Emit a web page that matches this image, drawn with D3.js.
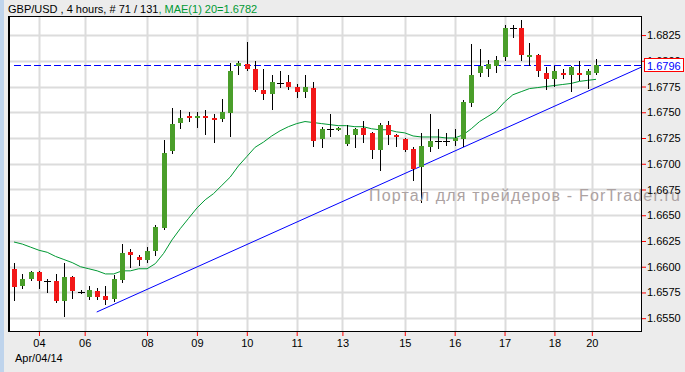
<!DOCTYPE html>
<html>
<head>
<meta charset="utf-8">
<script src="https://cdn.jsdelivr.net/npm/d3@7"></script>
<style>
  html, body { margin: 0; padding: 0; background: #ececec; }
  svg { display: block; }
  text { font-family: Arial, "Liberation Sans", sans-serif; }
</style>
</head>
<body>
<svg id="chart" width="685" height="372"></svg>
<script>
'use strict';

var symbol = 'GBP/USD';
var period = '4 hours';
var totalBars = 131;
var maLabel = 'MAE(1) 20';
var watermark = 'Портал для трейдеров - ForTrader.ru';
var firstDate = 'Apr/04/14';

var opens = [1.6598, 1.6581, 1.6588, 1.6595, 1.6586, 1.6586, 1.6567, 1.6590, 1.6575, 1.6571,
  1.6576, 1.6572, 1.6569, 1.6587, 1.6614, 1.6609, 1.6607, 1.6615, 1.6638, 1.6712,
  1.6740, 1.6746, 1.6745, 1.6746, 1.6744, 1.6743, 1.6749, 1.6795, 1.6797, 1.6792,
  1.6772, 1.6768, 1.6778, 1.6779, 1.6775, 1.6770, 1.6774, 1.6724, 1.6734, 1.6734,
  1.6719, 1.6728, 1.6735, 1.6730, 1.6713, 1.6738, 1.6728, 1.6724, 1.6714, 1.6697,
  1.6716, 1.6722, 1.6722, 1.6722, 1.6724, 1.6759, 1.6788, 1.6792, 1.6795, 1.6804,
  1.6832, 1.6832, 1.6804, 1.6806, 1.6788, 1.6782, 1.6788, 1.6786, 1.6788, 1.6786,
  1.6788];

var highs = [1.6604, 1.6593, 1.6596, 1.6596, 1.6588, 1.6593, 1.6604, 1.6591, 1.6577, 1.6581,
  1.6579, 1.6581, 1.6592, 1.6622, 1.6617, 1.6611, 1.6619, 1.6641, 1.6723, 1.6754,
  1.6752, 1.6750, 1.6750, 1.6752, 1.6748, 1.6763, 1.6798, 1.6800, 1.6818, 1.6800,
  1.6792, 1.6786, 1.6790, 1.6786, 1.6777, 1.6786, 1.6779, 1.6736, 1.6748, 1.6736,
  1.6738, 1.6735, 1.6742, 1.6731, 1.6740, 1.6742, 1.6729, 1.6725, 1.6716, 1.6730,
  1.6748, 1.6734, 1.6730, 1.6734, 1.6762, 1.6816, 1.6811, 1.6801, 1.6805, 1.6835,
  1.6835, 1.6840, 1.6817, 1.6807, 1.6794, 1.6795, 1.6792, 1.6795, 1.6800, 1.6792,
  1.6802];

var lows = [1.6568, 1.6579, 1.6587, 1.6579, 1.6575, 1.6566, 1.6552, 1.6570, 1.6574, 1.6569,
  1.6569, 1.6564, 1.6567, 1.6585, 1.6600, 1.6602, 1.6605, 1.6611, 1.6637, 1.6710,
  1.6735, 1.6742, 1.6736, 1.6729, 1.6721, 1.6742, 1.6727, 1.6787, 1.6791, 1.6771,
  1.6763, 1.6753, 1.6775, 1.6773, 1.6765, 1.6765, 1.6717, 1.6716, 1.6727, 1.6733,
  1.6718, 1.6716, 1.6721, 1.6706, 1.6694, 1.6719, 1.6717, 1.6712, 1.6684, 1.6663,
  1.6712, 1.6715, 1.6718, 1.6718, 1.6717, 1.6756, 1.6785, 1.6785, 1.6789, 1.6801,
  1.6823, 1.6801, 1.6796, 1.6785, 1.6773, 1.6776, 1.6783, 1.6771, 1.6781, 1.6774,
  1.6787];

var closes = [1.6580, 1.6588, 1.6595, 1.6586, 1.6586, 1.6567, 1.6590, 1.6576, 1.6575, 1.6577,
  1.6571, 1.6568, 1.6588, 1.6613, 1.6611, 1.6607, 1.6615, 1.6639, 1.6710, 1.6739,
  1.6744, 1.6745, 1.6746, 1.6745, 1.6743, 1.6750, 1.6790, 1.6798, 1.6792, 1.6772,
  1.6768, 1.6779, 1.6778, 1.6775, 1.6770, 1.6775, 1.6722, 1.6734, 1.6734, 1.6735,
  1.6728, 1.6734, 1.6728, 1.6713, 1.6738, 1.6728, 1.6726, 1.6713, 1.6695, 1.6717,
  1.6722, 1.6722, 1.6722, 1.6725, 1.6760, 1.6786, 1.6795, 1.6797, 1.6801, 1.6832,
  1.6832, 1.6806, 1.6806, 1.6790, 1.6782, 1.6790, 1.6786, 1.6794, 1.6786, 1.6790,
  1.6796];

var maValues = [1.6624, 1.6622, 1.6619, 1.6616, 1.6614, 1.6610, 1.6607, 1.6604, 1.6600, 1.6598,
  1.6596, 1.6593, 1.6593, 1.6596, 1.6596, 1.6598, 1.6598, 1.6603, 1.6613, 1.6626,
  1.6637, 1.6647, 1.6657, 1.6665, 1.6671, 1.6679, 1.6687, 1.6698, 1.6707, 1.6716,
  1.6721, 1.6727, 1.6732, 1.6736, 1.6739, 1.6741, 1.6740, 1.6739, 1.6738, 1.6737,
  1.6737, 1.6736, 1.6736, 1.6734, 1.6733, 1.6733, 1.6731, 1.6730, 1.6727, 1.6726,
  1.6726, 1.6726, 1.6725, 1.6725, 1.6728, 1.6734, 1.6741, 1.6746, 1.6751, 1.6760,
  1.6767, 1.6770, 1.6773, 1.6774, 1.6775, 1.6776, 1.6777, 1.6778, 1.6780, 1.6781,
  1.6782];

// trend line drawn by hand on the chart: [bar index, price]
var trendStart = [9.95, 1.6556];
var trendEnd = [75.5, 1.6794];

var yTicks = [1.6550, 1.6575, 1.6600, 1.6625, 1.6650, 1.6675, 1.6700, 1.6725, 1.6750, 1.6775, 1.6800, 1.6825];
var xTickLabels = ['04', '06', '08', '09', '10', '11', '13', '15', '16', '17', '18', '20'];
var xTickBars = [3, 8.5, 16, 22, 28, 34, 39.5, 47, 53, 59, 65, 69.5];

var plotLeft = 8, plotTop = 16, plotRight = 642, plotBottom = 332;
var green = '#4a9e2a', red = '#f21818', maColor = '#009933';

var svg = d3.select('#chart');

svg.append('rect').attr('x', 0).attr('y', 0).attr('width', 4).attr('height', 372)
  .attr('fill', '#bfd4ec');

var x = d3.scaleLinear().domain([0, 70]).range([14, 596]);
var y = d3.scaleLinear().domain([1.65366, 1.68435]).range([plotBottom, plotTop]);
var px = function (v) { return Math.round(x(v)); };
var py = function (v) { return Math.round(y(v)); };

svg.append('defs').append('clipPath').attr('id', 'plotclip')
  .append('rect').attr('x', plotLeft).attr('y', plotTop)
  .attr('width', plotRight - plotLeft).attr('height', plotBottom - plotTop);

svg.append('rect')
  .attr('x', plotLeft).attr('y', plotTop)
  .attr('width', plotRight - plotLeft).attr('height', plotBottom - plotTop)
  .attr('fill', '#ffffff');

var plot = svg.append('g').attr('clip-path', 'url(#plotclip)');

// grid
plot.selectAll('line.hgrid')
  .data(yTicks)
  .enter()
  .append('line')
  .attr('class', 'hgrid')
  .attr('x1', plotLeft).attr('x2', plotRight)
  .attr('y1', function (d) { return py(d) + 0.5; })
  .attr('y2', function (d) { return py(d) + 0.5; })
  .attr('stroke', '#dcdcdc').attr('stroke-width', 2);

plot.selectAll('line.vgrid')
  .data(xTickBars)
  .enter()
  .append('line')
  .attr('class', 'vgrid')
  .attr('y1', plotTop).attr('y2', plotBottom)
  .attr('x1', function (d) { return px(d) + 0.5; })
  .attr('x2', function (d) { return px(d) + 0.5; })
  .attr('stroke', '#dcdcdc').attr('stroke-width', 2);

// watermark (runs past the plot edge, like the original)
svg.append('text')
  .attr('x', 369).attr('y', 201)
  .attr('font-family', '"DejaVu Sans", Verdana, sans-serif')
  .attr('font-size', 16)
  .attr('textLength', 311)
  .attr('lengthAdjust', 'spacing')
  .attr('fill', '#aca2a2')
  .text(watermark);

// last price dashed line
var lastClose = closes[closes.length - 1];
plot.append('line')
  .attr('x1', x(0)).attr('x2', plotRight)
  .attr('y1', py(lastClose) + 0.5).attr('y2', py(lastClose) + 0.5)
  .attr('stroke', '#0000ff').attr('stroke-width', 1)
  .attr('stroke-dasharray', '7,3');

// moving average
plot.append('path')
  .datum(maValues)
  .attr('fill', 'none')
  .attr('stroke', maColor)
  .attr('stroke-width', 1)
  .attr('d', d3.line()
    .x(function (d, i) { return x(i); })
    .y(function (d) { return y(d); }));

// trend line
plot.append('line')
  .attr('x1', x(trendStart[0])).attr('y1', y(trendStart[1]))
  .attr('x2', x(trendEnd[0])).attr('y2', y(trendEnd[1]))
  .attr('stroke', '#0000ff').attr('stroke-width', 1);

// candles
var bars = d3.range(opens.length);
var candles = plot.selectAll('g.candle')
  .data(bars)
  .enter()
  .append('g')
  .attr('class', 'candle');

candles.append('line')
  .attr('x1', function (i) { return px(i) + 0.5; })
  .attr('x2', function (i) { return px(i) + 0.5; })
  .attr('y1', function (i) { return py(highs[i]); })
  .attr('y2', function (i) { return py(lows[i]) + 1; })
  .attr('stroke', '#000000').attr('stroke-width', 1);

candles.filter(function (i) { return opens[i] !== closes[i]; })
  .append('rect')
  .attr('x', function (i) { return px(i) - 2; })
  .attr('width', 5)
  .attr('y', function (i) { return py(Math.max(opens[i], closes[i])); })
  .attr('height', function (i) {
    return Math.max(2, Math.abs(py(opens[i]) - py(closes[i])));
  })
  .attr('fill', function (i) { return closes[i] > opens[i] ? green : red; });

candles.filter(function (i) { return opens[i] === closes[i]; })
  .append('line')
  .attr('x1', function (i) { return px(i) - 3; })
  .attr('x2', function (i) { return px(i) + 4; })
  .attr('y1', function (i) { return py(opens[i]) + 0.5; })
  .attr('y2', function (i) { return py(opens[i]) + 0.5; })
  .attr('stroke', '#000000').attr('stroke-width', 1);

// frame
svg.append('rect')
  .attr('x', plotLeft + 0.5).attr('y', plotTop + 0.5)
  .attr('width', plotRight - plotLeft - 1).attr('height', plotBottom - plotTop - 1)
  .attr('fill', 'none').attr('stroke', '#000000').attr('stroke-width', 1);
svg.append('line')
  .attr('x1', plotLeft + 1.5).attr('x2', plotLeft + 1.5).attr('y1', plotTop).attr('y2', plotBottom)
  .attr('stroke', '#000000').attr('stroke-width', 1);

// axes
var yAxis = svg.append('g')
  .attr('transform', 'translate(' + plotRight + ',0)')
  .call(d3.axisRight(y).tickValues(yTicks).tickSize(4).tickPadding(1)
    .tickFormat(d3.format('.4f')));
yAxis.select('.domain').remove();
yAxis.selectAll('.tick line').attr('stroke', '#ff0000');
yAxis.selectAll('.tick text').attr('fill', '#000000')
  .attr('font-size', 11).attr('font-family', 'Arial, "Liberation Sans", sans-serif');

var xAxis = svg.append('g')
  .attr('transform', 'translate(0,' + plotBottom + ')')
  .call(d3.axisBottom(x).tickValues(xTickBars).tickSize(4).tickPadding(3)
    .tickFormat(function (d, i) { return xTickLabels[i]; }));
xAxis.select('.domain').remove();
xAxis.selectAll('.tick line').attr('stroke', '#ff0000');
xAxis.selectAll('.tick text').attr('fill', '#000000')
  .attr('font-size', 11).attr('font-family', 'Arial, "Liberation Sans", sans-serif');

svg.append('text')
  .attr('x', 15).attr('y', 362)
  .attr('font-size', 11).attr('fill', '#000000')
  .text(firstDate);

// last price label (sits on top of the 1.6800 axis label, as in the original)
var fmt = d3.format('.4f');
svg.append('rect')
  .attr('x', 644.5).attr('y', py(lastClose) - 6.5)
  .attr('width', 39).attr('height', 13)
  .attr('fill', '#ffffff').attr('stroke', '#ff0000').attr('stroke-width', 1);
svg.append('text')
  .attr('x', 647).attr('y', py(lastClose) + 4.5)
  .attr('font-size', 11).attr('fill', '#0000ff')
  .text(fmt(lastClose));

// header
var header = svg.append('text')
  .attr('x', 8).attr('y', 12.5)
  .attr('font-size', 11);
header.append('tspan').attr('fill', '#000000')
  .text(symbol + ' , ' + period + ', # ' + opens.length + ' / ' + totalBars);
header.append('tspan').attr('fill', maColor)
  .text(', ' + maLabel + '=' + fmt(maValues[maValues.length - 1]));
</script>
</body>
</html>
